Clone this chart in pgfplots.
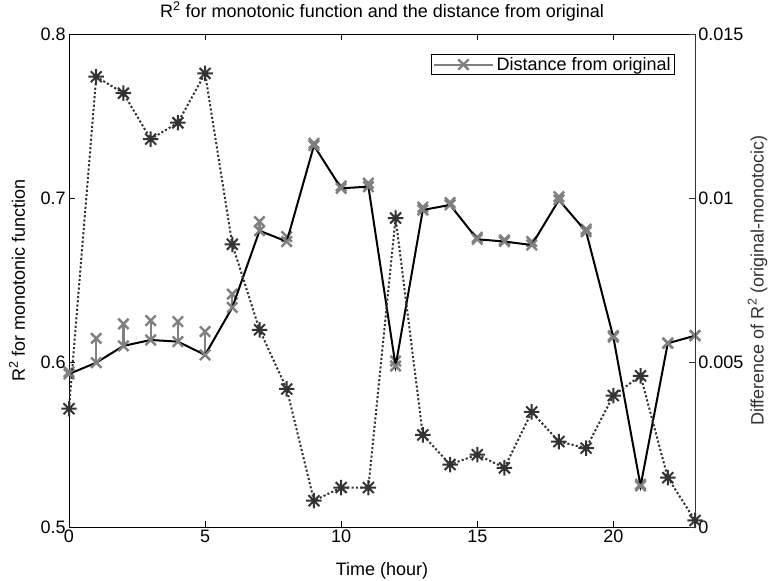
\documentclass[border=0pt]{standalone}
\usepackage{fontspec}
\setmainfont{Liberation Sans}
\usepackage{pgfplots}
\usepackage{pgfplotstable}
\pgfplotsset{compat=1.18}
\definecolor{mgray}{RGB}{128,128,128}
\definecolor{dgray}{RGB}{51,51,51}
\pgfdeclareplotmark{star8}{%
 \pgfpathmoveto{\pgfqpoint{-\pgfplotmarksize}{0pt}}\pgfpathlineto{\pgfqpoint{\pgfplotmarksize}{0pt}}%
 \pgfpathmoveto{\pgfqpoint{0pt}{-\pgfplotmarksize}}\pgfpathlineto{\pgfqpoint{0pt}{\pgfplotmarksize}}%
 \pgfpathmoveto{\pgfqpoint{-0.7071\pgfplotmarksize}{-0.7071\pgfplotmarksize}}\pgfpathlineto{\pgfqpoint{0.7071\pgfplotmarksize}{0.7071\pgfplotmarksize}}%
 \pgfpathmoveto{\pgfqpoint{-0.7071\pgfplotmarksize}{0.7071\pgfplotmarksize}}\pgfpathlineto{\pgfqpoint{0.7071\pgfplotmarksize}{-0.7071\pgfplotmarksize}}%
 \pgfusepathqstroke}
\pgfplotstableread{
h mono orig dist
0 0.5931 0.5945 0.0036
1 0.6000 0.6148 0.0137
2 0.6102 0.6236 0.0132
3 0.6138 0.6256 0.0118
4 0.6128 0.6250 0.0123
5 0.6047 0.6189 0.0138
6 0.6336 0.6417 0.0086
7 0.6803 0.6858 0.0060
8 0.6737 0.6767 0.0042
9 0.7321 0.7335 0.0008
10 0.7061 0.7075 0.0012
11 0.7071 0.7092 0.0012
12 0.5980 0.6010 0.0094
13 0.6929 0.6946 0.0028
14 0.6960 0.6974 0.0019
15 0.6751 0.6763 0.0022
16 0.6737 0.6747 0.0018
17 0.6716 0.6737 0.0035
18 0.6990 0.7010 0.0026
19 0.6797 0.6812 0.0024
20 0.6155 0.6165 0.0040
21 0.5250 0.5260 0.0046
22 0.6118 0.6120 0.0015
23 0.6164 0.6166 0.0002
}\data
\begin{document}
\begin{tikzpicture}
\pgfplotsset{every axis/.append style={font=\fontsize{13.5}{16}\selectfont}}
\begin{axis}[
  scale only axis, width=469.5pt, height=369.75pt,
  xmin=0, xmax=23, ymin=0.5, ymax=0.8,
  axis x line*=box, axis y line*=left,
  xtick={0,5,10,15,20}, xticklabels={0,5,10,15,20},
  ytick={0.5,0.6,0.7,0.8}, yticklabels={0.5,0.6,0.7,0.8},
  tick align=inside, major tick length=4.5pt,
  xticklabel style={yshift=1pt}, yticklabel style={xshift=1pt},
  axis line style={line width=0.6pt, black},
  every tick/.style={line width=0.6pt, black},
  clip=false,
  xlabel={Time (hour)},
  xlabel style={at={(axis description cs:0.5,-0.088)}, anchor=center},
  ylabel={R\textsuperscript{2} for monotonic function},
  ylabel style={at={(axis description cs:-0.083,0.5)}, anchor=center},
  title={R\textsuperscript{2} for monotonic function and the distance from original},
  title style={at={(axis description cs:0.5,1)}, anchor=south, yshift=0pt},
  legend style={at={(1,1)}, anchor=north east, xshift=-15pt, yshift=-15pt,
     draw=black, line width=0.6pt, inner xsep=1pt, inner ysep=0pt,
     font=\fontsize{13.5}{16}\selectfont},
]
\addplot[mgray, line width=1.8pt, only marks, mark=x, mark size=5.5pt,
  legend image code/.code={%
    \draw[mgray, line width=1.6pt] (0pt,0pt) -- (44pt,0pt);
    \path[draw=mgray, line width=1.8pt] plot[mark=x, mark size=5.5pt, only marks] coordinates {(22pt,0pt)};},
  error bars/.cd, y dir=plus, y explicit, error mark=x,
  error bar style={line width=1.6pt, mgray},
  error mark options={rotate=0, mgray, mark size=5.5pt, line width=1.8pt}]
  table[x=h, y=mono, y error expr=\thisrow{orig}-\thisrow{mono}] {\data};
\addlegendentry{Distance from original}
\addplot[black, line width=1.5pt, no marks, forget plot] table[x=h, y=mono] {\data};
\end{axis}
\begin{axis}[
  scale only axis, width=469.5pt, height=369.75pt,
  xmin=0, xmax=23, ymin=0, ymax=0.015,
  axis x line=none, axis y line*=right,
  scaled y ticks=false,
  ytick={0,0.005,0.01,0.015}, yticklabels={0,0.005,0.01,0.015},
  tick align=inside, major tick length=4.5pt,
  yticklabel style={xshift=-1pt},
  axis line style={line width=0.6pt, dgray},
  every tick/.style={line width=0.6pt, dgray},
  clip=false,
  ylabel={Difference of R\textsuperscript{2} (original-monotocic)},
  ylabel style={at={(axis description cs:1.10,0.5)}, anchor=center, text=dgray},
]
\addplot[dgray, line width=1.5pt, dash pattern=on 1.6pt off 1.6pt, mark=star8, mark size=5.8pt,
  mark options={solid, line width=1.5pt}] table[x=h, y=dist] {\data};
\end{axis}
\pgfresetboundingbox
\path[use as bounding box] (-51.75pt,-40.5pt) rectangle (528.75pt,395.25pt);
\end{tikzpicture}
\end{document}
